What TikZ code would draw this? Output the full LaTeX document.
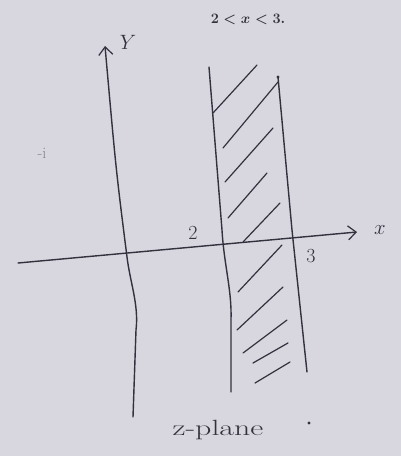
\documentclass[tikz,border=0pt]{standalone}
\usetikzlibrary{arrows.meta}
\definecolor{paper}{RGB}{216,214,222}
\definecolor{ink}{RGB}{50,50,62}
\tikzset{
  pen/.style={ink,line width=1.4pt,line cap=round,line join=round},
  hatch/.style={pen,line width=1.2pt},
  axis/.style={pen,-{Straight Barb[length=8pt,width=14pt,line width=1.2pt]}},
  lbl/.style={ink,inner sep=0pt,font=\fontsize{20}{22}\selectfont},
}
\begin{document}
\begin{tikzpicture}[x=1pt,y=-1pt]
\fill[paper] (0,0) rectangle (401,456);
\useasboundingbox (0,0) rectangle (401,456);

% axes
\coordinate (xl) at (18,263);
\coordinate (xr) at (357,232);
\coordinate (yb) at (133,417);
\coordinate (yt) at (105,46);
\draw[axis] (xl) -- (xr);
\draw[axis] (yb) -- (136,330) .. controls (139,305) and (130,282) .. (127,257)
  .. controls (116,170) .. (yt);
\node[lbl] (xlab) at (380,230) {$x$};
\node[lbl] (ylab) at (128,42) {$Y$};

% strip 2<x<3
\draw[pen] (231,392) -- (231,320) .. controls (232,290) and (224,265) .. (222,230) -- (209,67);
\draw[pen] (307,372) -- (292,230) -- (278,77);
\fill[ink] (278,77) circle (1.7);
\foreach \xa/\ya/\xb/\yb in {213/113/257/65, 223/148/278/82, 225/182/273/128,
    228/218/267/173, 243/242/280/203, 238/292/282/245,
    237/330/283/287, 243/353/287/320, 253/363/288/343,
    255/383/290/362}
  \draw[hatch] (\xa,\ya) -- (\xb,\yb);
\node[lbl] (two) at (193,233) {2};
\node[lbl] (three) at (311,256) {3};

% texts
\node[lbl,font=\fontsize{15}{17}\selectfont\boldmath] (cond) at (248,19) {$2<x<3.$};
\node[lbl,font=\fontsize{22}{24}\selectfont,xscale=1.45] (plane) at (218,430) {z-plane};
\fill[ink] (309,423) circle (1.7);
\node[lbl,ink!60,font=\fontsize{16}{18}\selectfont] (mi) at (42,153) {-i};
\end{tikzpicture}
\end{document}
